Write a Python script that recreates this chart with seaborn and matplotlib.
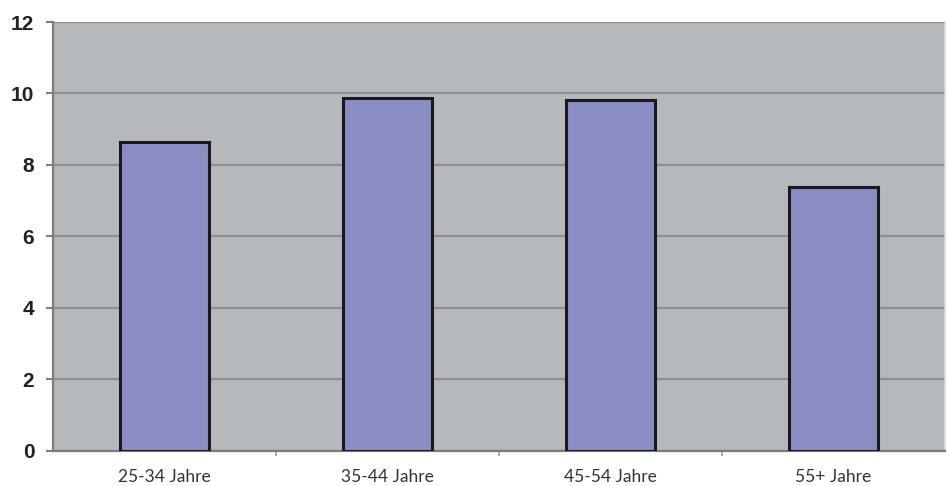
import matplotlib
matplotlib.use("Agg")
import matplotlib.pyplot as plt
import seaborn as sns
import pandas as pd
from matplotlib.ticker import MultipleLocator

categories = ["25-34 Jahre", "35-44 Jahre", "45-54 Jahre", "55+ Jahre"]
values = [8.65, 9.88, 9.82, 7.37]

df = pd.DataFrame({"Altersgruppe": categories, "Wert": values})

sns.set_theme(style="white")
fig = plt.figure(figsize=(9.47, 4.86), dpi=100)
ax = fig.add_axes([53 / 947, 1 - 450.5 / 486, 892 / 947, (450.5 - 22) / 486])

sns.barplot(data=df, x="Altersgruppe", y="Wert", ax=ax, color="#8a8cc4",
            saturation=1, width=0.4, edgecolor="#1a1a1a", linewidth=2.2, zorder=3)

ax.set_facecolor("#b6b9bc")
ax.set_ylim(0, 12)
ax.set_xlim(-0.5, 3.5)
ax.yaxis.set_major_locator(MultipleLocator(2))
ax.grid(axis="y", color="#8d8f92", linewidth=1.6, zorder=1)
ax.set_axisbelow(True)

ax.spines["top"].set_visible(False)
ax.spines["right"].set_color("#d8d9da")
ax.spines["right"].set_linewidth(1.2)
ax.spines["left"].set_color("#7a7c7e")
ax.spines["left"].set_linewidth(1.6)
ax.spines["bottom"].set_color("#7a7c7e")
ax.spines["bottom"].set_linewidth(1.6)

ax.set_xlabel("")
ax.set_ylabel("")

# y ticks: bold digits with short outward marks
ax.tick_params(axis="y", which="major", direction="out", length=5, width=1.4,
               color="#7a7c7e", pad=8.5, left=True)
for lbl in ax.get_yticklabels():
    lbl.set_fontfamily("Liberation Sans")
    lbl.set_fontweight("bold")
    lbl.set_fontsize(15)
    lbl.set_color("#222222")

# x ticks: category labels, with small marks at the category boundaries
ax.set_xticks(range(len(categories)))
ax.set_xticklabels(categories, fontfamily="Lato", fontsize=12.5, color="#333333")
ax.tick_params(axis="x", which="major", length=0, pad=13)
ax.set_xticks([0.5, 1.5, 2.5], minor=True)
ax.tick_params(axis="x", which="minor", direction="out", length=3.5, width=1.2,
               color="#9a9c9e", bottom=True)

fig.savefig("out.png", dpi=100, facecolor="white")
